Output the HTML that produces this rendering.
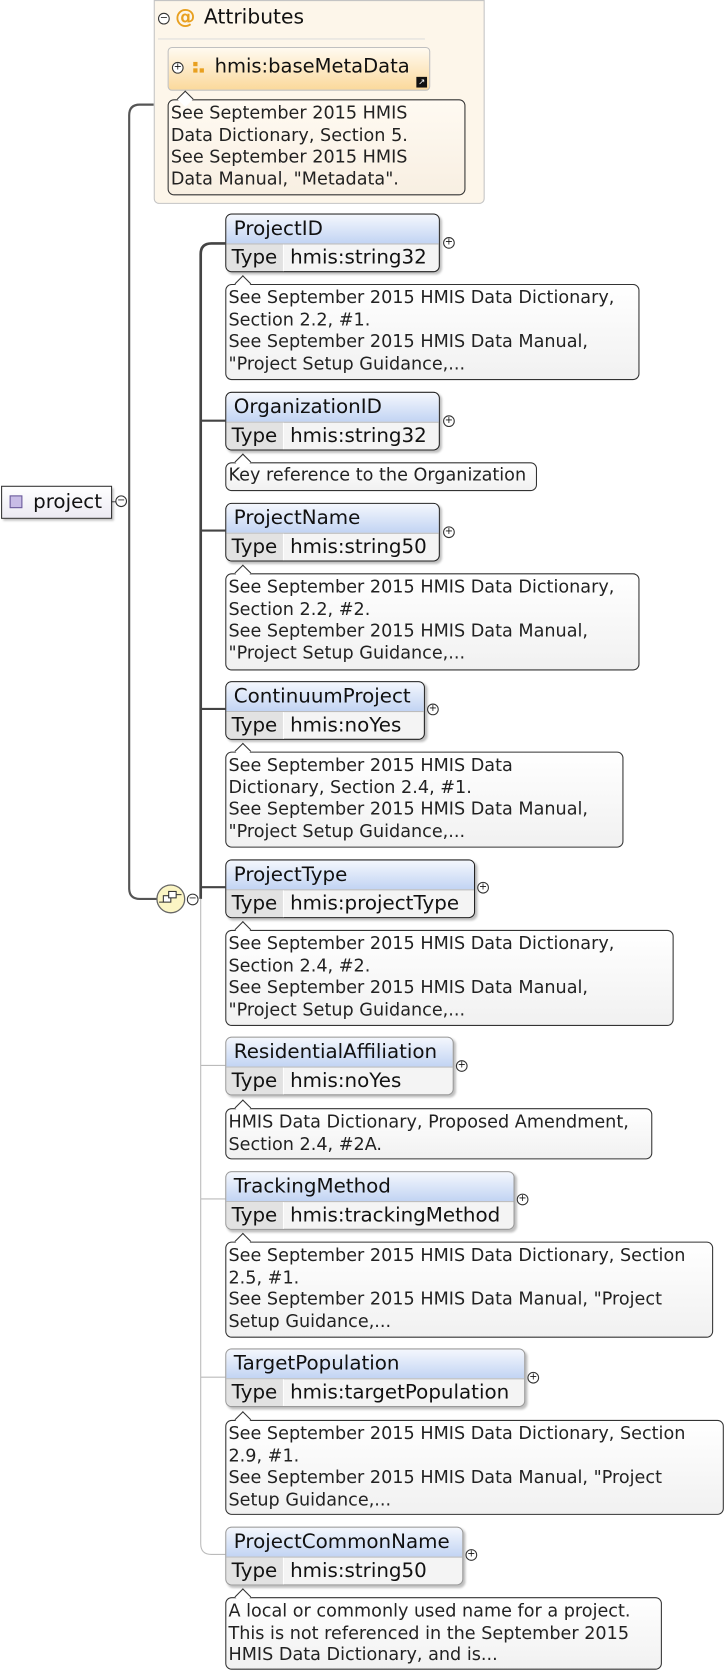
<!DOCTYPE html>
<html><head><meta charset="utf-8"><style>
html,body{margin:0;padding:0;background:#fff;}
body{width:726px;height:1665px;overflow:hidden;position:relative;}
#w{position:absolute;left:0;top:0;width:680px;height:1560px;transform:scale(1.0676);transform-origin:0 0;font-family:"DejaVu Sans","Liberation Sans",sans-serif;color:#111;}
.a{position:absolute;box-sizing:border-box;}
.el{position:absolute;box-sizing:border-box;border:1px solid #222;border-radius:6px;overflow:hidden;box-shadow:2px 2px 2px rgba(0,0,0,.25);background:#f4f4f4;}
.el.o{border-color:#9a9a9a;}
.el .t{height:27px;line-height:27px;padding-left:7px;font-size:18.6px;background:linear-gradient(#f4f7fd,#c2d4f3);border-bottom:1px solid #bbb;white-space:nowrap;}
.el .r{height:26px;line-height:25px;font-size:18.6px;display:flex;white-space:nowrap;}
.el .r .k{background:#e2e2e2;padding:0 5px 0 5px;border-right:1px solid #fff;}
.el .r .v{padding-left:6px;}
.d{position:absolute;box-sizing:border-box;border:1px solid #333;border-radius:6px;background:linear-gradient(#fff,#f1f1f1);font-size:16.5px;line-height:20.6px;padding:2px 2px;color:#222;white-space:nowrap;}
.d:before{content:"";position:absolute;left:10px;top:-7px;width:10px;height:10px;background:#fff;border-left:1px solid #333;border-top:1px solid #333;transform:rotate(45deg);}
.p{position:absolute;width:9px;height:9px;border:1px solid #333;border-radius:50%;font-size:9px;line-height:9px;text-align:center;background:#fff;}
</style></head><body><div id="w">
<svg class="a" style="left:0;top:0" width="680" height="1560">
<path d="M144 98 H131 Q121 98 121 108 V832 Q121 842 131 842 H150" fill="none" stroke="#555" stroke-width="2"/>
<path d="M104 470 H110" stroke="#555" stroke-width="1"/>
<path d="M211 228 H198 Q188 228 188 238 V842" fill="none" stroke="#444" stroke-width="2.5"/>
<path d="M188 394 H211 M188 497 H211 M188 664 H211 M188 831 H211" stroke="#444" stroke-width="2"/>
<path d="M188 842 V1446 Q188 1456 198 1456 H211 M188 998 H211 M188 1123 H211 M188 1290 H211" fill="none" stroke="#bbb" stroke-width="1"/>
<circle cx="160" cy="842" r="13" fill="#fbf5c4" stroke="#666" stroke-width="1.2"/>
<rect x="153" y="839" width="7" height="6" fill="#fff" stroke="#333"/><rect x="158" y="835" width="7" height="6" fill="#fff" stroke="#333"/>
<path d="M149 845 H153 M165 838 H170" stroke="#333"/>
</svg>
<div class="p" style="left:108px;top:464px">−</div>
<div class="p" style="left:175px;top:837px">−</div>
<div class="a" style="left:1px;top:455px;width:104px;height:31px;border:1px solid #333;background:linear-gradient(#fff,#eceaf3);box-shadow:2px 2px 2px rgba(0,0,0,.25);font-size:18.6px;line-height:29px;padding-left:29px">project</div>
<div class="a" style="left:9px;top:464px;width:12px;height:12px;background:#c8bce6;border:1px solid #6a5a9a"></div>

<div class="a" style="left:144px;top:0;width:310px;height:191px;background:#fdf6ea;border:1px solid #c4c4c4;border-radius:0 0 5px 5px"></div>
<div class="p" style="left:148px;top:12px">−</div>
<div class="a" style="left:164px;top:5px;font-size:19px;color:#e8a020;font-weight:bold">@</div>
<div class="a" style="left:191px;top:5px;font-size:19px">Attributes</div>
<div class="a" style="left:148px;top:36px;width:250px;height:1px;background:#ddd"></div>
<div class="a" style="left:157px;top:44px;width:246px;height:41px;border:1px solid #c0c0c0;border-radius:4px;background:linear-gradient(#fffaf0,#fbd99c);font-size:18.3px;line-height:36px;padding-left:43px;white-space:nowrap">hmis:baseMetaData</div>
<div class="p" style="left:161px;top:58px">+</div>
<div class="a" style="left:181px;top:58px;width:4px;height:4px;background:#e8a020"></div>
<div class="a" style="left:181px;top:64px;width:4px;height:4px;background:#e8a020"></div>
<div class="a" style="left:187px;top:64px;width:4px;height:4px;background:#e8a020"></div>
<div class="a" style="left:390px;top:72px;width:10px;height:10px;background:#111;color:#fff;font-size:8px;line-height:10px;text-align:center">↗</div>
<div class="d" style="left:157px;top:93px;width:279px;height:90px;background:linear-gradient(#fffaf2,#f8efe2)">See September 2015 HMIS<br>Data Dictionary, Section 5.<br>See September 2015 HMIS<br>Data Manual, "Metadata".</div>

<div class="el" style="left:211px;top:200px;width:201px;height:55px"><div class="t">ProjectID</div><div class="r"><span class="k">Type</span><span class="v">hmis:string32</span></div></div>
<div class="p" style="left:415px;top:222px">+</div>
<div class="d" style="left:211px;top:266px;width:388px;height:90px">See September 2015 HMIS Data Dictionary,<br>Section 2.2, #1.<br>See September 2015 HMIS Data Manual,<br>"Project Setup Guidance,...</div>

<div class="el" style="left:211px;top:367px;width:201px;height:55px"><div class="t">OrganizationID</div><div class="r"><span class="k">Type</span><span class="v">hmis:string32</span></div></div>
<div class="p" style="left:415px;top:389px">+</div>
<div class="d" style="left:211px;top:433px;width:292px;height:27px;padding-top:1px">Key reference to the Organization</div>

<div class="el" style="left:211px;top:471px;width:201px;height:55px"><div class="t">ProjectName</div><div class="r"><span class="k">Type</span><span class="v">hmis:string50</span></div></div>
<div class="p" style="left:415px;top:493px">+</div>
<div class="d" style="left:211px;top:537px;width:388px;height:91px">See September 2015 HMIS Data Dictionary,<br>Section 2.2, #2.<br>See September 2015 HMIS Data Manual,<br>"Project Setup Guidance,...</div>

<div class="el" style="left:211px;top:638px;width:187px;height:55px"><div class="t">ContinuumProject</div><div class="r"><span class="k">Type</span><span class="v">hmis:noYes</span></div></div>
<div class="p" style="left:400px;top:659px">+</div>
<div class="d" style="left:211px;top:704px;width:373px;height:90px">See September 2015 HMIS Data<br>Dictionary, Section 2.4, #1.<br>See September 2015 HMIS Data Manual,<br>"Project Setup Guidance,...</div>

<div class="el" style="left:211px;top:805px;width:234px;height:55px"><div class="t">ProjectType</div><div class="r"><span class="k">Type</span><span class="v">hmis:projectType</span></div></div>
<div class="p" style="left:447px;top:826px">+</div>
<div class="d" style="left:211px;top:871px;width:420px;height:90px">See September 2015 HMIS Data Dictionary,<br>Section 2.4, #2.<br>See September 2015 HMIS Data Manual,<br>"Project Setup Guidance,...</div>

<div class="el o" style="left:211px;top:971px;width:214px;height:55px"><div class="t">ResidentialAffiliation</div><div class="r"><span class="k">Type</span><span class="v">hmis:noYes</span></div></div>
<div class="p" style="left:427px;top:993px">+</div>
<div class="d" style="left:211px;top:1038px;width:400px;height:48px">HMIS Data Dictionary, Proposed Amendment,<br>Section 2.4, #2A.</div>

<div class="el o" style="left:211px;top:1097px;width:271px;height:55px"><div class="t">TrackingMethod</div><div class="r"><span class="k">Type</span><span class="v">hmis:trackingMethod</span></div></div>
<div class="p" style="left:484px;top:1118px">+</div>
<div class="d" style="left:211px;top:1163px;width:457px;height:90px">See September 2015 HMIS Data Dictionary, Section<br>2.5, #1.<br>See September 2015 HMIS Data Manual, "Project<br>Setup Guidance,...</div>

<div class="el o" style="left:211px;top:1263px;width:281px;height:55px"><div class="t">TargetPopulation</div><div class="r"><span class="k">Type</span><span class="v">hmis:targetPopulation</span></div></div>
<div class="p" style="left:494px;top:1285px">+</div>
<div class="d" style="left:211px;top:1330px;width:467px;height:89px">See September 2015 HMIS Data Dictionary, Section<br>2.9, #1.<br>See September 2015 HMIS Data Manual, "Project<br>Setup Guidance,...</div>

<div class="el o" style="left:211px;top:1430px;width:223px;height:55px"><div class="t">ProjectCommonName</div><div class="r"><span class="k">Type</span><span class="v">hmis:string50</span></div></div>
<div class="p" style="left:436px;top:1451px">+</div>
<div class="d" style="left:211px;top:1496px;width:409px;height:68px">A local or commonly used name for a project.<br>This is not referenced in the September 2015<br>HMIS Data Dictionary, and is...</div>
</div></body></html>
